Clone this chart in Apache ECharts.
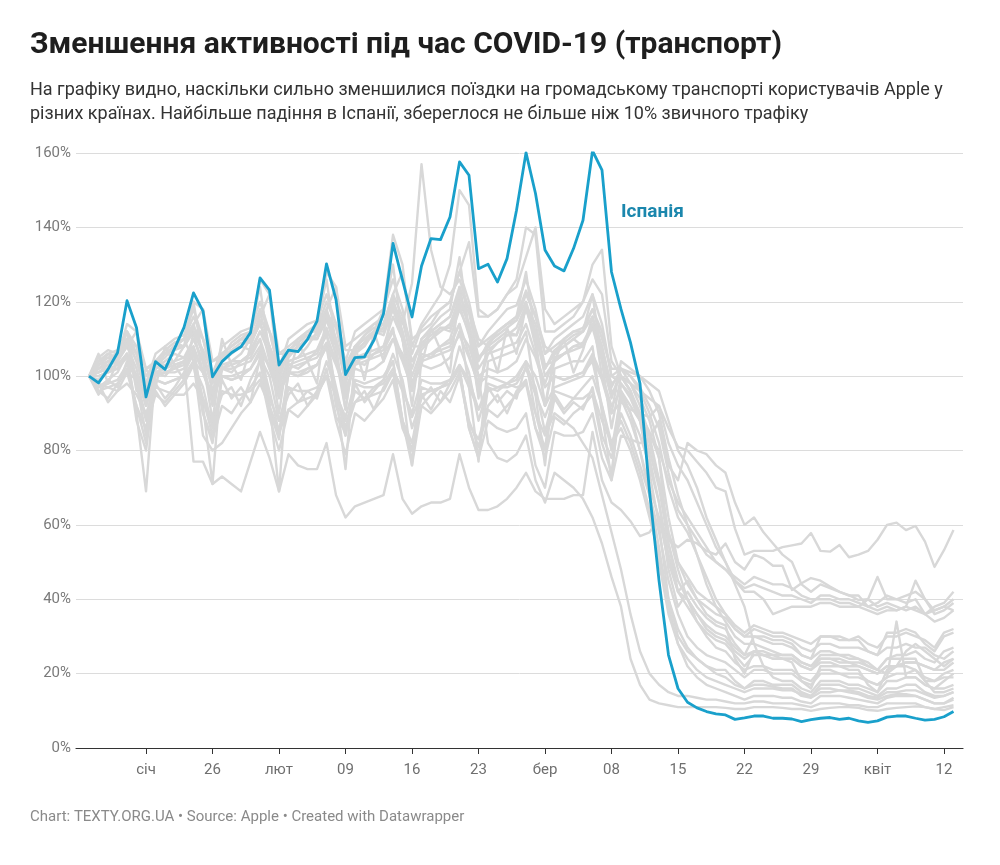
<!DOCTYPE html>
<html>
<head>
<meta charset="utf-8">
<script src="https://cdn.jsdelivr.net/npm/echarts@6/dist/echarts.min.js"></script>
<style>
html,body{margin:0;padding:0;background:#fff;}
#chart{width:1000px;height:865px;}
</style>
</head>
<body>
<div id="chart"></div>
<script>
// Day index 0 = 13 Jan 2020 (Mon) ... 91 = 13 Apr 2020
const tickDays = [6, 13, 20, 27, 34, 41, 48, 55, 62, 69, 76, 83, 90];
const tickLabels = ['січ', '26', 'лют', '09', '16', '23', 'бер', '08', '15', '22', '29', 'квіт', '12'];
const yTicks = [0, 20, 40, 60, 80, 100, 120, 140, 160];

const spain = [
  100, 98.2, 101.8, 106.3, 120.3, 113, 94.4,
  103.9, 101.8, 107.4, 113.1, 122.4, 117.5, 99.8,
  103.9, 106.3, 107.9, 111.7, 126.4, 123.1, 103.0,
  107.0, 106.6, 109.9, 114.8, 130.2, 120.6, 100.4,
  105.0, 105.2, 109.7, 116.8, 135.7, 125.8, 115.9,
  129.6, 137.0, 136.7, 142.8, 157.6, 154.0, 128.9,
  130.1, 125.3, 131.6, 144.6, 160.1, 149.1, 133.9,
  129.6, 128.3, 134.3, 141.9, 160.6, 155.4, 128.0,
  118, 109, 98, 69, 45, 25, 16,
  12.3, 10.8, 9.8, 9.2, 8.9, 7.7, 8.1,
  8.6, 8.6, 8.0, 8.0, 7.8, 7.1, 7.6,
  8.0, 8.2, 7.7, 8.0, 7.3, 6.9, 7.3,
  8.3, 8.6, 8.6, 8.0, 7.5, 7.7, 8.4,
  9.8
];

const other01 = [
  100, 97, 99, 101, 106, 98, 88,
  101, 100, 103, 104, 110, 104, 92,
  102, 101, 104, 106, 112, 108, 95,
  103, 102, 104, 107, 113, 106, 94,
  104, 103, 106, 108, 116, 110, 98,
  106, 105, 108, 110, 118, 112, 100,
  82, 78, 77, 79, 84, 72, 66,
  74, 72, 70, 67, 62, 55, 46,
  38, 24, 17, 13, 12, 11.5, 11,
  11, 11, 11, 11, 10.8, 10.5, 10.5,
  11, 11, 11, 10.8, 10.5, 10.5, 10,
  10.5, 10.8, 11, 11, 10.8, 10.2, 10,
  10.5, 10.8, 11, 11.2, 11, 10.5, 10.2,
  11
];
const other02 = [
  100, 103, 105, 104, 110, 106, 96,
  103, 105, 108, 110, 104, 84, 80,
  82, 86, 90, 93, 98, 92, 85,
  91, 93, 94, 95, 100, 95, 88,
  93, 94, 95, 96, 101, 97, 89,
  95, 96, 97, 98, 103, 99, 91,
  96, 97, 98, 99, 104, 100, 92,
  97, 98, 99, 100, 105, 99, 90,
  93, 91, 90, 89, 92, 86, 81,
  80, 77, 74, 70, 69, 59, 52,
  53, 53, 53, 54, 54.5, 55, 57.8,
  53, 52.8, 54.6, 51.3, 52, 53, 56,
  60, 60.6, 58.6, 59.7, 55.5, 48.7, 53.2,
  58.6
];
const other03 = [
  100, 101, 103, 104, 108, 102, 92,
  100, 101, 102, 104, 77, 77, 71,
  73, 71, 69, 77, 85, 78, 69,
  79, 76, 75, 75, 82, 68, 62,
  65, 66, 67, 68, 79, 67, 63,
  65, 66, 66, 67, 79, 70, 64,
  64, 65, 67, 70, 74, 69, 67,
  67, 67, 68, 68, 85, 72, 66,
  64, 61, 57, 58, 62, 56, 54,
  56, 55, 53, 52, 55, 50, 48,
  52, 51, 49, 49, 42.5, 44.3, 45.7,
  45, 43.4, 42, 41.1, 39.8, 40, 38,
  39, 38, 37, 38, 36, 37, 38,
  37
];
const other04 = [
  100, 100, 101, 102, 106, 88, 80,
  100, 101, 101, 102, 107, 90, 82,
  100, 100, 101, 102, 107, 91, 83,
  101, 101, 102, 103, 108, 92, 84,
  99, 98, 99, 100, 104, 88, 80,
  97, 96, 97, 98, 102, 86, 78,
  88, 86, 85, 86, 90, 76, 70,
  85, 84, 84, 85, 90, 78, 72,
  84, 83, 82, 83, 88, 76, 72,
  82, 80, 79, 76, 74, 66, 60,
  62, 58, 55, 52, 50, 44, 42,
  44, 43, 42, 41, 41, 38, 37,
  38, 37, 38, 45, 40, 36, 37,
  39
];
const other05 = [
  100, 99, 102, 105, 114, 112, 92,
  101, 102, 104, 108, 120, 118, 95,
  102, 104, 106, 110, 126, 122, 98,
  104, 105, 108, 112, 128, 124, 99,
  106, 108, 112, 118, 138, 130, 108,
  114, 118, 122, 130, 150, 146, 118,
  116, 118, 122, 126, 140, 138, 112,
  112, 114, 116, 120, 130, 134, 108,
  100, 96, 88, 74, 60, 40, 30,
  26, 24, 22, 21, 21, 18, 16,
  17, 17, 16.5, 16, 16, 14, 13.5,
  15, 15, 15.5, 15, 14.5, 13.5, 13,
  14, 14.5, 14.5, 14, 13, 12, 12,
  13.5
];
const other06 = [
  100, 102, 104, 103, 106, 100, 97,
  102, 104, 106, 105, 110, 104, 99,
  104, 106, 108, 107, 112, 106, 100,
  106, 108, 110, 110, 115, 108, 102,
  108, 110, 112, 113, 120, 114, 125,
  157, 134, 124, 122, 126, 118, 108,
  110, 112, 114, 115, 122, 116, 106,
  108, 110, 112, 112, 118, 112, 100,
  98, 94, 88, 80, 70, 55, 45,
  40, 36, 33, 31, 30, 27, 25,
  26, 25, 25, 24, 24, 22, 21,
  23, 23, 22, 22, 22, 21, 20,
  22, 22, 23, 23, 22, 21, 21,
  23
];
const other07 = [
  100, 103, 106, 104, 108, 112, 102,
  104, 106, 108, 108, 114, 118, 104,
  106, 108, 110, 110, 116, 122, 106,
  108, 110, 112, 112, 118, 124, 108,
  110, 112, 114, 114, 122, 128, 110,
  112, 114, 118, 120, 128, 136, 116,
  116, 118, 122, 124, 132, 140, 118,
  114, 116, 118, 120, 126, 122, 104,
  100, 98, 94, 88, 78, 62, 50,
  44, 40, 38, 36, 35, 32, 30,
  32, 31, 30, 30, 29, 27, 26,
  28, 28, 27, 27, 27, 26, 25,
  27, 27, 28, 27, 27, 25, 24,
  26
];
const other08 = [
  100, 101, 102, 103, 106, 90, 69,
  102, 103, 104, 105, 108, 92, 71,
  103, 104, 104, 106, 110, 93, 69,
  104, 105, 106, 107, 112, 95, 75,
  105, 106, 107, 108, 113, 96, 76,
  105, 106, 108, 109, 114, 97, 77,
  104, 105, 106, 107, 112, 95, 76,
  102, 103, 104, 104, 108, 90, 72,
  98, 95, 90, 85, 78, 55, 42,
  45, 40, 36, 34, 33, 24, 20,
  26, 25, 24, 24, 23, 18, 16,
  22, 22, 22, 21, 21, 17, 15,
  21, 22, 22, 21, 18, 15, 15,
  16
];
const other09 = [
  100, 104, 106, 105, 110, 104, 95,
  103, 106, 108, 108, 112, 106, 96,
  104, 107, 109, 109, 114, 108, 97,
  105, 108, 110, 110, 116, 110, 98,
  106, 109, 112, 112, 118, 112, 100,
  107, 110, 113, 113, 120, 114, 102,
  106, 109, 111, 111, 118, 112, 100,
  104, 106, 108, 108, 114, 106, 95,
  100, 98, 96, 94, 92, 82, 76,
  72, 66, 60, 54, 50, 45, 42,
  42, 40, 36, 37, 38, 38, 38,
  39, 39, 38, 38, 38, 40, 46,
  40, 40, 39, 40, 36, 38, 39,
  42
];
const other10 = [
  100, 97, 98, 99, 103, 100, 94,
  99, 98, 99, 100, 104, 101, 95,
  100, 99, 100, 102, 106, 103, 96,
  101, 100, 101, 103, 108, 104, 97,
  102, 101, 102, 104, 110, 106, 98,
  103, 102, 103, 105, 112, 108, 100,
  102, 101, 102, 104, 110, 105, 97,
  100, 99, 100, 101, 106, 100, 92,
  96, 92, 88, 84, 80, 72, 66,
  62, 58, 54, 50, 48, 45, 43,
  44, 43, 42, 41, 41, 40, 39,
  41, 41, 40, 40, 39, 38, 39,
  41, 40, 41, 42, 40, 37, 38,
  40
];
const other11 = [
  100, 104, 105, 106, 112, 106, 98,
  106, 108, 110, 111, 118, 110, 100,
  108, 110, 112, 113, 120, 112, 102,
  110, 112, 114, 115, 122, 114, 104,
  112, 114, 116, 118, 126, 118, 106,
  113, 116, 118, 120, 128, 120, 108,
  112, 115, 118, 119, 126, 118, 106,
  110, 112, 114, 116, 122, 114, 100,
  102, 98, 92, 84, 72, 58, 50,
  46, 42, 40, 38, 36, 33, 31,
  33, 32, 31, 31, 30, 29, 28,
  30, 30, 29, 29, 30, 28, 27,
  30, 30, 31, 30, 29, 27, 31,
  32
];
const other12 = [
  100, 96, 97, 98, 101, 92, 82,
  99, 98, 99, 100, 104, 94, 84,
  100, 99, 100, 102, 106, 96, 85,
  101, 100, 102, 103, 108, 97, 86,
  96, 94, 97, 99, 104, 88, 76,
  92, 95, 97, 99, 102, 86, 78,
  97, 96, 98, 100, 104, 90, 80,
  100, 99, 100, 101, 104, 92, 80,
  95, 90, 84, 76, 66, 52, 42,
  38, 34, 31, 29, 28, 25, 22,
  25, 25, 24, 24, 24, 22, 21,
  24, 24, 24, 23, 23, 22, 21,
  24, 25, 25, 26, 24, 23, 26,
  27
];
const other13 = [
  100, 106, 98, 104, 110, 96, 102,
  97, 108, 103, 99, 112, 101, 94,
  110, 103, 99, 108, 115, 104, 96,
  100, 109, 104, 98, 117, 105, 91,
  108, 99, 112, 104, 121, 110, 97,
  103, 113, 107, 101, 124, 112, 95,
  109, 101, 113, 106, 119, 108, 92,
  104, 110, 101, 107, 116, 100, 90,
  104, 102, 100, 96, 90, 78, 68,
  60, 52, 44, 38, 34, 30, 28,
  28, 27, 26, 25, 25, 23, 22,
  24, 24, 23, 23, 22, 21, 20,
  22, 22, 23, 23, 22, 21, 23,
  24
];
const other14 = [
  100, 101, 102, 102, 106, 100, 92,
  101, 102, 103, 104, 108, 101, 93,
  102, 103, 104, 105, 110, 102, 94,
  103, 104, 105, 106, 111, 104, 95,
  104, 105, 106, 107, 112, 105, 96,
  105, 106, 107, 108, 114, 106, 97,
  106, 107, 108, 109, 114, 106, 98,
  105, 106, 107, 108, 113, 104, 94,
  102, 101, 100, 98, 96, 88, 80,
  76, 70, 62, 56, 50, 44, 38,
  28, 22, 19, 18, 18, 16, 15,
  18, 18, 18, 17, 17, 16, 15,
  18, 18, 19, 19, 17, 16, 18,
  20
];
const other15 = [
  100, 95, 99, 97, 104, 91, 86,
  98, 94, 97, 101, 106, 93, 87,
  95, 97, 92, 99, 104, 90, 84,
  97, 93, 96, 94, 102, 89, 85,
  93, 96, 91, 97, 101, 88, 82,
  95, 91, 96, 93, 100, 87, 83,
  92, 95, 90, 96, 99, 86, 81,
  94, 90, 93, 91, 97, 84, 78,
  90, 84, 76, 68, 58, 45, 36,
  30, 27, 25, 24, 23, 21, 19,
  21, 21, 20, 20, 20, 18, 17,
  20, 20, 20, 19, 19, 18, 17,
  19, 20, 20, 21, 19, 18, 19,
  19
];
const other16 = [
  100, 105, 107, 106, 110, 106, 100,
  104, 107, 109, 108, 112, 107, 101,
  106, 108, 110, 109, 114, 108, 102,
  107, 109, 111, 110, 116, 109, 103,
  108, 110, 112, 111, 118, 110, 104,
  109, 111, 113, 112, 119, 111, 105,
  108, 110, 112, 111, 118, 110, 102,
  106, 108, 110, 108, 114, 106, 98,
  100, 96, 90, 82, 72, 58, 48,
  40, 34, 30, 27, 26, 23, 21,
  22, 22, 21, 21, 21, 19, 18,
  21, 21, 20, 20, 20, 18, 17,
  19, 34, 19, 19, 17, 16, 16,
  17
];
const other17 = [
  100, 98, 97, 96, 98, 95, 90,
  97, 96, 95, 95, 98, 94, 88,
  96, 95, 95, 96, 99, 94, 88,
  97, 96, 96, 97, 100, 95, 89,
  98, 97, 97, 98, 102, 96, 90,
  99, 98, 98, 99, 103, 97, 91,
  98, 97, 97, 98, 102, 95, 89,
  96, 95, 94, 94, 96, 88, 82,
  86, 80, 72, 62, 52, 40, 32,
  27, 24, 22, 20, 19, 17, 16,
  18, 18, 17, 17, 17, 15, 14,
  17, 17, 17, 16, 16, 15, 14,
  16, 16, 17, 17, 15, 14, 14,
  15
];
const other18 = [
  100, 103, 104, 105, 109, 108, 98,
  104, 106, 107, 108, 113, 110, 100,
  105, 107, 108, 110, 115, 112, 101,
  106, 108, 110, 111, 117, 113, 102,
  107, 109, 111, 113, 119, 115, 104,
  108, 110, 112, 114, 121, 117, 105,
  107, 109, 111, 113, 119, 114, 103,
  104, 106, 108, 109, 114, 108, 96,
  96, 90, 80, 68, 54, 38, 28,
  22, 19, 17, 16, 15, 14, 13,
  14, 14, 14, 13.5, 13.5, 12.5, 12,
  14, 14, 14, 13.5, 13, 12.5, 12,
  13.5, 14, 14, 14, 13, 12, 12,
  13
];
const other19 = [
  100, 102, 104, 106, 110, 104, 96,
  104, 106, 108, 110, 114, 106, 98,
  106, 108, 110, 112, 117, 108, 99,
  107, 109, 111, 113, 118, 110, 100,
  108, 110, 112, 114, 120, 112, 102,
  110, 112, 114, 116, 122, 114, 104,
  109, 111, 113, 115, 120, 112, 102,
  107, 109, 111, 112, 116, 108, 97,
  102, 100, 96, 90, 82, 70, 62,
  58, 52, 46, 40, 36, 32, 30,
  30, 29, 28, 28, 27, 25, 24,
  26, 26, 25, 25, 24, 23, 21,
  20, 22, 26, 28, 26, 24, 22,
  24
];
const other20 = [
  100, 96, 94, 98, 102, 92, 86,
  95, 93, 96, 99, 103, 90, 83,
  92, 90, 94, 97, 101, 89, 80,
  91, 89, 92, 95, 100, 88, 79,
  90, 88, 91, 94, 99, 86, 80,
  92, 90, 93, 96, 101, 88, 81,
  91, 89, 92, 95, 98, 86, 78,
  89, 87, 90, 92, 95, 82, 74,
  94, 88, 80, 70, 62, 50, 42,
  40, 36, 32, 30, 29, 26, 24,
  26, 26, 25, 25, 25, 23, 22,
  25, 25, 25, 24, 24, 22, 21,
  24, 24, 24, 24, 18, 18, 20,
  21
];
const other21 = [
  100, 104, 106, 107, 112, 108, 102,
  103, 107, 109, 110, 116, 110, 104,
  105, 109, 111, 112, 118, 112, 106,
  106, 110, 112, 113, 120, 114, 107,
  107, 111, 113, 114, 122, 116, 108,
  108, 112, 114, 116, 124, 118, 110,
  108, 112, 114, 116, 123, 116, 108,
  106, 110, 112, 113, 118, 110, 102,
  102, 100, 97, 92, 86, 74, 64,
  60, 56, 52, 50, 48, 46, 44,
  46, 45, 44, 44, 43, 41, 40,
  40, 40, 39, 39, 38, 37, 36,
  37, 37, 38, 37, 36, 34, 35,
  37
];
const other22 = [
  100, 100, 101, 102, 105, 100, 94,
  101, 101, 102, 103, 107, 101, 95,
  102, 102, 103, 104, 108, 102, 96,
  102, 103, 104, 105, 109, 103, 96,
  103, 104, 105, 106, 110, 104, 97,
  104, 105, 106, 107, 111, 105, 98,
  100, 99, 98, 97, 98, 90, 84,
  90, 88, 86, 82, 78, 68, 58,
  48, 36, 26, 20, 17, 15, 14,
  14, 13.5, 13, 13, 12.5, 12, 12,
  12.5, 12.5, 12, 12, 12, 11.5, 11,
  12, 12, 12, 11.5, 11.5, 11, 11,
  12, 12, 12, 12, 11, 10.5, 11,
  11.5
];
const other23 = [
  100, 98, 93, 96, 101, 99, 89,
  96, 92, 95, 98, 103, 97, 86,
  99, 94, 97, 93, 105, 100, 88,
  95, 98, 92, 96, 104, 96, 84,
  98, 93, 96, 99, 106, 99, 86,
  94, 97, 93, 98, 108, 101, 88,
  97, 93, 96, 94, 103, 97, 85,
  95, 91, 94, 97, 100, 92, 82,
  88, 82, 74, 64, 50, 36, 28,
  24, 21, 19, 18, 17, 16, 15,
  16, 16, 16, 15.5, 15.5, 14.5, 14,
  16, 16, 15.5, 15.5, 15, 14, 13.5,
  15, 15, 15.5, 15.5, 14.5, 13.5, 14,
  15
];
const other24 = [
  100, 102, 103, 105, 112, 98, 84,
  104, 106, 108, 110, 120, 104, 88,
  106, 108, 110, 112, 124, 106, 90,
  107, 109, 112, 114, 126, 108, 91,
  108, 111, 114, 116, 130, 110, 92,
  110, 113, 116, 118, 132, 112, 94,
  109, 112, 114, 116, 128, 110, 92,
  106, 108, 110, 112, 122, 104, 86,
  100, 96, 88, 78, 66, 48, 38,
  42, 38, 35, 33, 32, 28, 25,
  30, 30, 29, 29, 28, 25, 24,
  30, 30, 30, 29, 29, 26, 25,
  31, 31, 32, 31, 28, 26, 30,
  31
];

const others = [other01, other02, other03, other04, other05, other06, other07, other08,
  other09, other10, other11, other12, other13, other14, other15, other16, other17, other18,
  other19, other20, other21, other22, other23, other24];

const toPairs = arr => arr.map((v, i) => [i, v]);

const FONT = 'Roboto, "Noto Sans", sans-serif';
const series = others.map((arr, k) => ({
  type: 'line',
  name: 'other' + (k + 1),
  data: toPairs(arr),
  symbol: 'none',
  silent: true,
  lineStyle: { color: '#d8d8d8', width: 2.4, join: 'round' },
  z: 2
}));
series.push({
  type: 'line',
  name: 'Іспанія',
  data: toPairs(spain),
  symbol: 'none',
  lineStyle: { color: '#19a0cb', width: 2.8, join: 'round' },
  z: 5
});

const chart = echarts.init(document.getElementById('chart'), null, { renderer: 'canvas' });
chart.setOption({
  animation: false,
  backgroundColor: '#ffffff',
  grid: { left: 76, right: 37, top: 153, bottom: 117, containLabel: false },
  xAxis: {
    type: 'value',
    min: -1.37,
    max: 92,
    splitLine: { show: false },
    axisLine: { show: true, onZero: false, lineStyle: { color: '#333333', width: 1.2 } },
    axisTick: { show: true, length: 6, customValues: tickDays, lineStyle: { color: '#333333', width: 1 } },
    axisLabel: {
      customValues: tickDays,
      margin: 15,
      color: '#6f6f6f',
      fontSize: 15,
      fontFamily: FONT,
      formatter: v => tickLabels[tickDays.indexOf(Math.round(v))] || ''
    }
  },
  yAxis: {
    type: 'value',
    min: 0,
    max: 160,
    interval: 20,
    axisLine: { show: false },
    axisTick: { show: false },
    splitLine: { show: true, lineStyle: { color: '#dcdcdc', width: 1 } },
    axisLabel: {
      margin: 5,
      color: '#7a7a7a',
      fontSize: 15,
      fontFamily: FONT,
      formatter: v => yTicks.indexOf(v) >= 0 ? v + '%' : ''
    }
  },
  series: series,
  graphic: [
    {
      type: 'text', left: 30, top: 30,
      style: { text: 'Зменшення активності під час COVID-19 (транспорт)', font: 'bold 30px ' + FONT, fill: '#1e1e1e' }
    },
    {
      type: 'text', left: 30, top: 78,
      style: {
        text: 'На графіку видно, наскільки сильно зменшилися поїздки на громадському транспорті користувачів Apple у\nрізних країнах. Найбільше падіння в Іспанії, збереглося не більше ніж 10% звичного трафіку',
        font: '18px ' + FONT, fill: '#333333', lineHeight: 24
      }
    },
    {
      type: 'text', left: 621, top: 203,
      style: { text: 'Іспанія', font: 'bold 19px ' + FONT, fill: '#1b87ad' }
    },
    {
      type: 'text', left: 30, top: 810,
      style: { text: 'Chart: TEXTY.ORG.UA • Source: Apple • Created with Datawrapper', font: '15px ' + FONT, fill: '#8a8a8a' }
    }
  ]
});
</script>
</body>
</html>
